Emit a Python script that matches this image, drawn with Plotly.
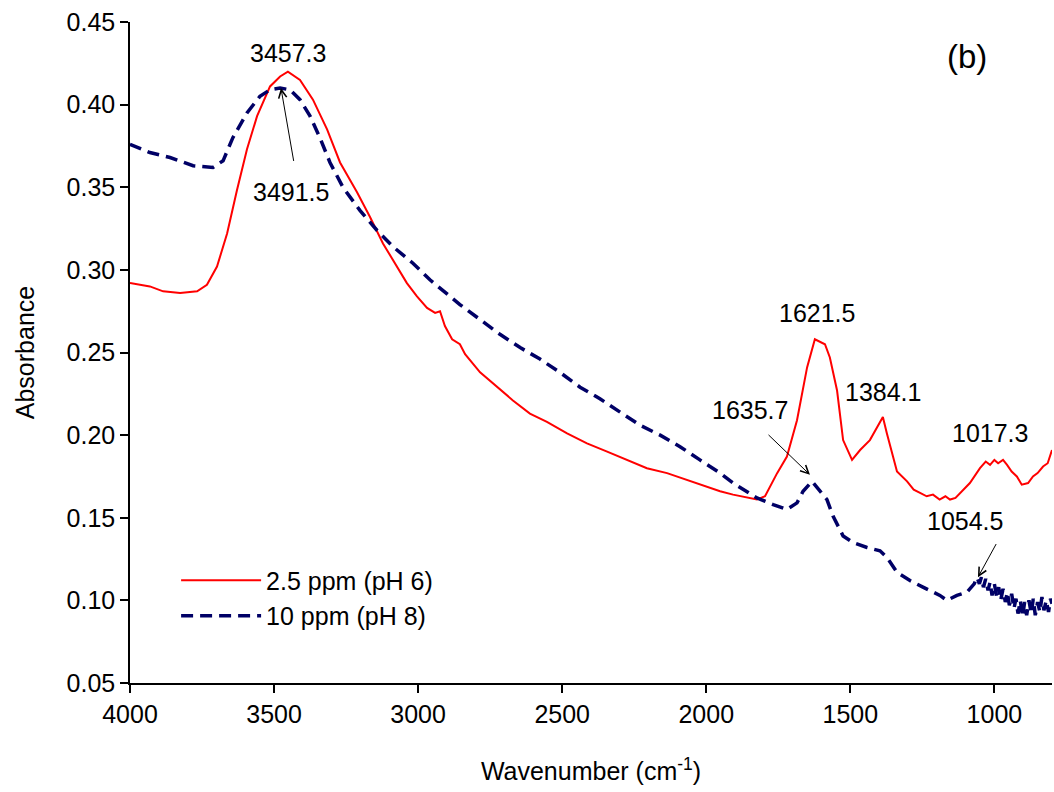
import plotly.graph_objects as go

# ---- data ----
red_wn = [4000, 3931, 3885, 3826, 3767, 3733, 3698, 3663, 3629, 3594, 3559, 3514, 3479, 3452,
          3410, 3365, 3316, 3271, 3212, 3167, 3122, 3073, 3039, 3004, 2969, 2941, 2924, 2907,
          2882, 2855, 2837, 2785, 2726, 2671, 2612, 2553, 2483, 2414, 2344, 2275, 2206, 2136,
          2067, 2022, 1952, 1907, 1824, 1796, 1754, 1720, 1685, 1650, 1623, 1588, 1571, 1546,
          1525, 1494, 1466, 1432, 1387, 1373, 1338, 1303, 1280, 1258, 1235, 1213, 1190, 1170,
          1154, 1135, 1119, 1085, 1050, 1030, 1015, 1000, 987, 970, 956, 940, 922, 905, 883,
          866, 850, 831, 815, 800]
red_abs = [0.292, 0.290, 0.287, 0.286, 0.287, 0.291, 0.302, 0.322, 0.348, 0.373, 0.393, 0.411,
           0.417, 0.420, 0.415, 0.403, 0.385, 0.365, 0.347, 0.332, 0.316, 0.302, 0.292, 0.284,
           0.277, 0.274, 0.275, 0.266, 0.258, 0.255, 0.249, 0.238, 0.229, 0.221, 0.213, 0.208,
           0.201, 0.195, 0.190, 0.185, 0.180, 0.177, 0.173, 0.170, 0.166, 0.164, 0.161, 0.163,
           0.177, 0.187, 0.209, 0.241, 0.258, 0.255, 0.247, 0.227, 0.197, 0.185, 0.191, 0.197,
           0.211, 0.201, 0.178, 0.172, 0.167, 0.165, 0.163, 0.164, 0.161, 0.163, 0.161, 0.162,
           0.165, 0.171, 0.180, 0.184, 0.182, 0.185, 0.183, 0.185, 0.182, 0.178, 0.175, 0.170,
           0.171, 0.175, 0.177, 0.181, 0.183, 0.191]

blue_wn = [4000, 3931, 3861, 3781, 3712, 3677, 3643, 3594, 3549, 3514, 3479, 3445, 3410, 3375,
           3341, 3306, 3261, 3202, 3143, 3087, 3018, 2959, 2855, 2785, 2716, 2646, 2577, 2508,
           2438, 2369, 2299, 2230, 2160, 2091, 2022, 1952, 1907, 1824, 1768, 1720, 1685, 1664,
           1633, 1611, 1581, 1560, 1525, 1491, 1442, 1397, 1373, 1338, 1293, 1248, 1189, 1165,
           1130, 1095, 1070, 1060, 1052, 1045, 1038, 1030, 1022, 1015, 1008, 1000, 992, 985,
           978, 970, 962, 955, 948, 940, 932, 925, 918, 910, 902, 895, 888, 880, 872, 865, 858,
           850, 842, 835, 828, 820, 812, 805, 800]
blue_abs = [0.376, 0.371, 0.368, 0.363, 0.362, 0.366, 0.380, 0.395, 0.405, 0.409, 0.410, 0.409,
            0.403, 0.393, 0.380, 0.365, 0.350, 0.336, 0.324, 0.314, 0.304, 0.294, 0.279, 0.270,
            0.261, 0.253, 0.246, 0.238, 0.229, 0.222, 0.214, 0.206, 0.200, 0.193, 0.185, 0.177,
            0.171, 0.162, 0.158, 0.155, 0.159, 0.166, 0.172, 0.167, 0.161, 0.151, 0.139, 0.135,
            0.132, 0.130, 0.126, 0.117, 0.112, 0.108, 0.103, 0.100, 0.103, 0.105, 0.110, 0.114,
            0.110, 0.114, 0.108, 0.113, 0.106, 0.111, 0.103, 0.110, 0.102, 0.108, 0.100, 0.107,
            0.099, 0.105, 0.097, 0.104, 0.095, 0.101, 0.092, 0.100, 0.090, 0.099, 0.091, 0.100,
            0.092, 0.101, 0.091, 0.099, 0.093, 0.102, 0.094, 0.100, 0.093, 0.101, 0.098]

series_names = ["2.5 ppm (pH 6)", "10 ppm (pH 8)"]

x_ticks = [4000, 3500, 3000, 2500, 2000, 1500, 1000]
y_ticks = [0.05, 0.10, 0.15, 0.20, 0.25, 0.30, 0.35, 0.40, 0.45]

# peak labels: (text, x, y)
plain_labels = [("3457.3", 3452, 0.431), ("1621.5", 1616, 0.274),
                ("1384.1", 1387, 0.226), ("1017.3", 1015, 0.201)]
# arrow labels: (text, text_x, text_y, tail_x, tail_y, head_x, head_y)
arrow_labels = [("3491.5", 3441, 0.347, 3431, 0.365, 3476, 0.410),
                ("1635.7", 1848, 0.215, 1789, 0.201, 1640, 0.176),
                ("1054.5", 1102, 0.148, 991, 0.135, 1057, 0.114)]

FONT = "Liberation Sans, Arial, sans-serif"
FS = 25

fig = go.Figure()
fig.add_trace(go.Scatter(x=red_wn, y=red_abs, mode="lines", name=series_names[0],
                         line=dict(color="#ff0000", width=2)))
fig.add_trace(go.Scatter(x=blue_wn, y=blue_abs, mode="lines", name=series_names[1],
                         line=dict(color="#000066", width=3.5, dash="12px,7px")))

for t, x, y in plain_labels:
    fig.add_annotation(x=x, y=y, text=t, showarrow=False,
                       font=dict(size=FS, color="black", family=FONT))
fig.add_annotation(x=1095, y=0.429, text="(b)", showarrow=False,
                   font=dict(size=33, color="black", family=FONT))

for t, tx, ty, x0, y0, x1, y1 in arrow_labels:
    fig.add_annotation(x=tx, y=ty, text=t, showarrow=False,
                       font=dict(size=FS, color="black", family=FONT))
    fig.add_annotation(x=x1, y=y1, ax=x0, ay=y0, xref="x", yref="y", axref="x", ayref="y",
                       text="", showarrow=True, arrowhead=5, arrowsize=1.6, arrowwidth=1,
                       arrowcolor="black")

fig.update_layout(
    width=1054, height=792,
    margin=dict(l=130, r=2, t=22, b=109),
    paper_bgcolor="white", plot_bgcolor="white",
    font=dict(family=FONT, size=FS, color="black"),
    showlegend=True,
    legend=dict(x=0.05, y=0.19, xanchor="left", yanchor="top",
                bgcolor="rgba(0,0,0,0)", font=dict(size=FS, family=FONT),
                itemwidth=80, tracegroupgap=0),
    xaxis=dict(range=[4000, 800], tickvals=x_ticks,
               showgrid=False, zeroline=False, showline=True, linecolor="black", linewidth=1.5,
               ticks="outside", ticklen=8, tickwidth=1.5, tickcolor="black",
               tickfont=dict(size=FS, family=FONT),
               title=dict(text="Wavenumber (cm<sup>-1</sup>)", font=dict(size=FS, family=FONT),
                          standoff=36)),
    yaxis=dict(range=[0.05, 0.45], tickvals=y_ticks, tickformat=".2f",
               showgrid=False, zeroline=False, showline=True, linecolor="black", linewidth=1.5,
               ticks="outside", ticklen=8, tickwidth=1.5, tickcolor="black",
               tickfont=dict(size=FS, family=FONT),
               title=dict(text="Absorbance", font=dict(size=FS, family=FONT), standoff=25)),
)

fig.write_html("out.html")
